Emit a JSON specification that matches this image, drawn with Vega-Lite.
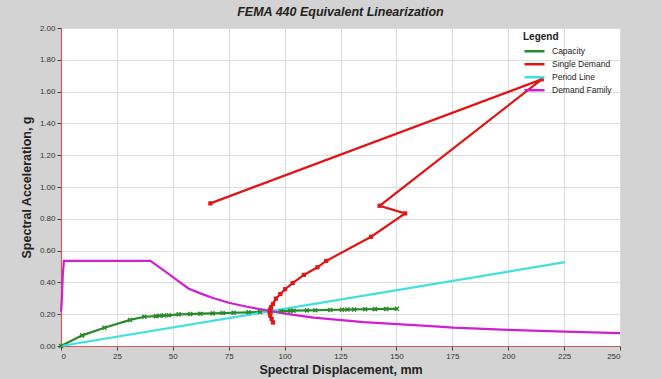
{
  "$schema": "https://vega.github.io/schema/vega-lite/v6.json",
  "width": 559,
  "height": 318,
  "autosize": {"type": "none"},
  "padding": {"left": 61, "top": 28, "right": 41, "bottom": 33},
  "background": "#d3d3d3",
  "title": {"text": "FEMA 440 Equivalent Linearization", "font": "Liberation Sans", "fontSize": 12.5, "fontStyle": "italic", "fontWeight": "bold", "color": "#222222", "anchor": "middle", "offset": 6},
  "config": {
    "view": {"fill": "white", "stroke": null},
    "axis": {
      "labelFont": "Liberation Sans", "labelFontSize": 8, "labelColor": "#333333",
      "titleFont": "Liberation Sans", "titleFontSize": 12.5, "titleFontWeight": "bold", "titleColor": "#222222",
      "domainColor": "#c85a5a", "domainWidth": 1.2,
      "tickColor": "#444444", "tickSize": 4,
      "gridColor": "#dcdcdc", "gridWidth": 1, "labelPadding": 2
    }
  },
  "datasets": {
    "d": [
      {"s": "Capacity", "i": 1, "x": 0, "y": 0},
      {"s": "Capacity", "i": 2, "x": 9.5, "y": 0.067},
      {"s": "Capacity", "i": 3, "x": 19.4, "y": 0.115},
      {"s": "Capacity", "i": 4, "x": 30.9, "y": 0.164},
      {"s": "Capacity", "i": 5, "x": 37.3, "y": 0.184},
      {"s": "Capacity", "i": 6, "x": 42.4, "y": 0.188},
      {"s": "Capacity", "i": 7, "x": 44.1, "y": 0.19},
      {"s": "Capacity", "i": 8, "x": 46, "y": 0.192},
      {"s": "Capacity", "i": 9, "x": 48.2, "y": 0.193},
      {"s": "Capacity", "i": 10, "x": 52.6, "y": 0.199},
      {"s": "Capacity", "i": 11, "x": 57.8, "y": 0.201},
      {"s": "Capacity", "i": 12, "x": 62.3, "y": 0.203},
      {"s": "Capacity", "i": 13, "x": 67.8, "y": 0.205},
      {"s": "Capacity", "i": 14, "x": 72.3, "y": 0.207},
      {"s": "Capacity", "i": 15, "x": 77.2, "y": 0.209},
      {"s": "Capacity", "i": 16, "x": 83.9, "y": 0.212},
      {"s": "Capacity", "i": 17, "x": 89, "y": 0.214},
      {"s": "Capacity", "i": 18, "x": 94, "y": 0.217},
      {"s": "Capacity", "i": 19, "x": 98.5, "y": 0.219},
      {"s": "Capacity", "i": 20, "x": 102.5, "y": 0.221},
      {"s": "Capacity", "i": 21, "x": 104, "y": 0.222},
      {"s": "Capacity", "i": 22, "x": 110, "y": 0.224},
      {"s": "Capacity", "i": 23, "x": 113.7, "y": 0.225},
      {"s": "Capacity", "i": 24, "x": 120.4, "y": 0.227},
      {"s": "Capacity", "i": 25, "x": 125.6, "y": 0.228},
      {"s": "Capacity", "i": 26, "x": 128.1, "y": 0.229},
      {"s": "Capacity", "i": 27, "x": 131.1, "y": 0.23},
      {"s": "Capacity", "i": 28, "x": 136, "y": 0.231},
      {"s": "Capacity", "i": 29, "x": 140.4, "y": 0.232},
      {"s": "Capacity", "i": 30, "x": 145.4, "y": 0.233},
      {"s": "Capacity", "i": 31, "x": 150.2, "y": 0.234},
      {"s": "Single Demand", "i": 1, "x": 66.8, "y": 0.897},
      {"s": "Single Demand", "i": 2, "x": 215, "y": 1.677},
      {"s": "Single Demand", "i": 3, "x": 142.5, "y": 0.882},
      {"s": "Single Demand", "i": 4, "x": 153.9, "y": 0.834},
      {"s": "Single Demand", "i": 5, "x": 138.7, "y": 0.687},
      {"s": "Single Demand", "i": 6, "x": 118.6, "y": 0.535},
      {"s": "Single Demand", "i": 7, "x": 114.7, "y": 0.495},
      {"s": "Single Demand", "i": 8, "x": 108.6, "y": 0.447},
      {"s": "Single Demand", "i": 9, "x": 103.6, "y": 0.396},
      {"s": "Single Demand", "i": 10, "x": 100.2, "y": 0.357},
      {"s": "Single Demand", "i": 11, "x": 98.1, "y": 0.327},
      {"s": "Single Demand", "i": 12, "x": 96.1, "y": 0.298},
      {"s": "Single Demand", "i": 13, "x": 94.8, "y": 0.265},
      {"s": "Single Demand", "i": 14, "x": 94, "y": 0.245},
      {"s": "Single Demand", "i": 15, "x": 93.5, "y": 0.228},
      {"s": "Single Demand", "i": 16, "x": 93.3, "y": 0.21},
      {"s": "Single Demand", "i": 17, "x": 93.6, "y": 0.19},
      {"s": "Single Demand", "i": 18, "x": 94.2, "y": 0.17},
      {"s": "Single Demand", "i": 19, "x": 94.8, "y": 0.148},
      {"s": "Period Line", "i": 1, "x": 0, "y": 0},
      {"s": "Period Line", "i": 2, "x": 225.4, "y": 0.527},
      {"s": "Demand Family", "i": 1, "x": 0, "y": 0.216},
      {"s": "Demand Family", "i": 2, "x": 0.4, "y": 0.3},
      {"s": "Demand Family", "i": 3, "x": 0.8, "y": 0.45},
      {"s": "Demand Family", "i": 4, "x": 1.3, "y": 0.535},
      {"s": "Demand Family", "i": 5, "x": 40, "y": 0.535},
      {"s": "Demand Family", "i": 6, "x": 47.5, "y": 0.46},
      {"s": "Demand Family", "i": 7, "x": 52, "y": 0.413},
      {"s": "Demand Family", "i": 8, "x": 57, "y": 0.362},
      {"s": "Demand Family", "i": 9, "x": 62.3, "y": 0.331},
      {"s": "Demand Family", "i": 10, "x": 68.3, "y": 0.3},
      {"s": "Demand Family", "i": 11, "x": 75, "y": 0.272},
      {"s": "Demand Family", "i": 12, "x": 83.2, "y": 0.247},
      {"s": "Demand Family", "i": 13, "x": 95.1, "y": 0.216},
      {"s": "Demand Family", "i": 14, "x": 104, "y": 0.196},
      {"s": "Demand Family", "i": 15, "x": 113, "y": 0.178},
      {"s": "Demand Family", "i": 16, "x": 135.3, "y": 0.15},
      {"s": "Demand Family", "i": 17, "x": 163.6, "y": 0.126},
      {"s": "Demand Family", "i": 18, "x": 175.5, "y": 0.115},
      {"s": "Demand Family", "i": 19, "x": 200, "y": 0.101},
      {"s": "Demand Family", "i": 20, "x": 225.4, "y": 0.09},
      {"s": "Demand Family", "i": 21, "x": 250, "y": 0.081}
    ]
  },
  "encoding": {
    "x": {"field": "x", "type": "quantitative", "scale": {"domain": [0, 250], "nice": false, "zero": false},
      "axis": {"values": [0, 25, 50, 75, 100, 125, 150, 175, 200, 225, 250], "format": "d", "title": "Spectral Displacement, mm", "titlePadding": 3}},
    "y": {"field": "y", "type": "quantitative", "scale": {"domain": [0, 2], "nice": false},
      "axis": {"values": [0, 0.2, 0.4, 0.6, 0.8, 1, 1.2, 1.4, 1.6, 1.8, 2], "format": ".2f", "title": "Spectral Acceleration, g", "titlePadding": 6}}
  },
  "layer": [
    {
      "data": {"name": "d"},
      "mark": {"type": "line", "strokeWidth": 2.2},
      "encoding": {
        "color": {"field": "s", "type": "nominal",
          "scale": {"domain": ["Capacity", "Single Demand", "Period Line", "Demand Family"], "range": ["#2a8a2a", "#e01515", "#3ee0e0", "#d21ed2"]},
          "legend": {"title": "Legend", "orient": "none", "legendX": 462, "legendY": 4, "symbolType": "stroke", "symbolSize": 400, "symbolStrokeWidth": 2.5, "clipHeight": 12.7, "rowPadding": 0,
            "titleFont": "Liberation Sans", "titleFontSize": 10, "titleFontWeight": "bold", "titleColor": "#222222", "titlePadding": 3,
            "labelFont": "Liberation Sans", "labelFontSize": 8.5, "labelColor": "#222222", "labelOffset": 6}},
        "order": {"field": "i", "type": "quantitative"}
      }
    },
    {
      "data": {"name": "d"},
      "transform": [{"filter": "datum.s == 'Capacity'"}],
      "mark": {"type": "point", "shape": "M-1,-1L1,1M1,-1L-1,1", "size": 16, "strokeWidth": 1.5, "color": "#2a8a2a", "filled": false, "opacity": 1}
    },
    {
      "data": {"name": "d"},
      "transform": [{"filter": "datum.s == 'Single Demand'"}],
      "mark": {"type": "square", "size": 18, "color": "#e01515", "opacity": 1}
    }
  ]
}
